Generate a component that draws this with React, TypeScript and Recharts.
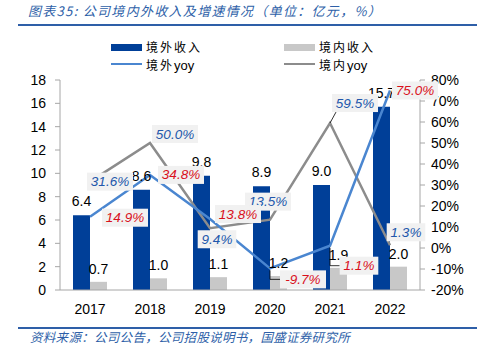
import React from 'react';
import { ComposedChart, Bar, Line, XAxis, YAxis, LabelList } from 'recharts';

const years = ['2017', '2018', '2019', '2020', '2021', '2022'];
const overseasRevenue = [6.4, 8.6, 9.8, 8.9, 9.0, 15.7];
const domesticRevenue = [0.7, 1.0, 1.1, 1.2, 1.9, 2.0];
const overseasYoy = [14.9, 34.8, 13.8, -9.7, 1.1, 75.0];
const domesticYoy = [31.6, 50.0, 9.4, 13.5, 59.5, 1.3];
const leftTicks = [0, 2, 4, 6, 8, 10, 12, 14, 16, 18];
const rightTicks = [-20, -10, 0, 10, 20, 30, 40, 50, 60, 70, 80];

// label placement relative to the data point (dx, dy) and leader-line flags
const overseasLabelShift = [[35, 1], [31, 0], [28, -5], [33, 11], [29, 20], [25, 0]];
const overseasLeader = [false, false, false, true, true, false];
const domesticLabelShift = [[20, 0], [25, -9], [7, 11], [-2, -18], [25, -20], [16, -13]];
const domesticLeader = [false, false, false, false, true, false];

const data = years.map((y, i) => ({
  year: y,
  overseas: overseasRevenue[i],
  domestic: domesticRevenue[i],
  overseasYoy: overseasYoy[i],
  domesticYoy: domesticYoy[i],
}));

const FONT = '"Liberation Sans", Arial, sans-serif';
const CJK = '"Noto Sans CJK SC", sans-serif';
const NAVY = '#003f98';
const LIGHTGREY = '#c8c8c8';
const LINEBLUE = '#4a86d0';
const LINEGREY = '#8c8c8c';
const RED = '#d9101c';
const LABELBLUE = '#2157ab';
const RULE = '#2e5fa8';

function makeLabel(shifts: number[][], leaders: boolean[], color: string) {
  return (props: any) => {
    const { x, y, index, value } = props;
    if (x == null || y == null) return null;
    const [dx, dy] = shifts[index];
    const text = `${Number(value).toFixed(1)}%`;
    const w = text.length * 7.4 + 9;
    const h = 18;
    const cx = x + dx;
    const cy = y + dy;
    let leader = null;
    if (leaders[index]) {
      if (dy > 0) {
        leader = (
          <polyline
            points={`${x},${y + 2} ${x},${cy} ${cx - w / 2},${cy}`}
            fill="none"
            stroke="#000"
            strokeWidth={0.8}
          />
        );
      } else {
        leader = (
          <line x1={x} y1={y} x2={cx - w / 2 + 4} y2={cy + h / 2} stroke="#000" strokeWidth={0.8} />
        );
      }
    }
    return (
      <g>
        {leader}
        <rect x={cx - w / 2} y={cy - h / 2} width={w} height={h} fill="#f1f1f1" />
        <text
          x={cx}
          y={cy}
          textAnchor="middle"
          dominantBaseline="central"
          fontFamily={FONT}
          fontStyle="italic"
          fontSize={13.5}
          fill={color}
        >
          {text}
        </text>
      </g>
    );
  };
}

const tickStyle = { fontSize: 14, fill: '#000', fontFamily: FONT };
const legendText = {
  position: 'absolute' as const,
  fontFamily: CJK,
  fontSize: 12,
  letterSpacing: 2,
  lineHeight: '14px',
  color: '#000',
  whiteSpace: 'nowrap' as const,
};
const latinPart = { fontFamily: FONT, fontSize: 13, letterSpacing: 0 };

export default function App() {
  return (
    <div style={{ position: 'absolute', left: 0, top: 0, width: 483, height: 357, background: '#fff', overflow: 'hidden' }}>
      <div
        style={{
          position: 'absolute',
          left: 28,
          top: 2,
          fontFamily: CJK,
          fontStyle: 'italic',
          fontSize: 13,
          lineHeight: '18px',
          letterSpacing: 1.3,
          color: RULE,
          whiteSpace: 'nowrap',
        }}
      >
        图表35: 公司境内外收入及增速情况（单位：亿元，%）
      </div>
      <div style={{ position: 'absolute', left: 18, top: 24, width: 459, height: 2, background: RULE }} />

      {/* legend */}
      <div style={{ position: 'absolute', left: 111, top: 44, width: 31, height: 7, background: NAVY }} />
      <div style={{ ...legendText, left: 146, top: 40 }}>境外收入</div>
      <div style={{ position: 'absolute', left: 284, top: 44, width: 31, height: 7, background: LIGHTGREY }} />
      <div style={{ ...legendText, left: 319, top: 40 }}>境内收入</div>
      <div style={{ position: 'absolute', left: 111, top: 63, width: 31, height: 2, background: LINEBLUE }} />
      <div style={{ ...legendText, left: 146, top: 58 }}>境外<span style={latinPart}>yoy</span></div>
      <div style={{ position: 'absolute', left: 284, top: 63, width: 31, height: 2, background: LINEGREY }} />
      <div style={{ ...legendText, left: 319, top: 58 }}>境内<span style={latinPart}>yoy</span></div>

      <div style={{ position: 'absolute', left: 0, top: 0 }}>
        <ComposedChart
          width={483}
          height={357}
          data={data}
          margin={{ top: 80, right: 0, bottom: 37, left: 0 }}
          barGap={0}
          barSize={17}
        >
          <XAxis
            dataKey="year"
            height={30}
            tick={tickStyle}
            tickLine={false}
            tickSize={6}
            tickMargin={8}
            axisLine={{ stroke: '#a6a6a6' }}
          />
          <YAxis
            yAxisId="left"
            domain={[0, 18]}
            ticks={leftTicks}
            width={60}
            tick={tickStyle}
            tickSize={5}
            tickMargin={9}
            axisLine={{ stroke: '#a6a6a6' }}
            tickLine={{ stroke: '#a6a6a6' }}
            interval={0}
          />
          <YAxis
            yAxisId="right"
            orientation="right"
            domain={[-20, 80]}
            ticks={rightTicks}
            width={63}
            tick={tickStyle}
            tickSize={5}
            tickMargin={6}
            tickFormatter={(v: number) => `${v}%`}
            axisLine={{ stroke: '#a6a6a6' }}
            tickLine={{ stroke: '#a6a6a6' }}
            interval={0}
          />
          <Bar yAxisId="left" dataKey="overseas" fill={NAVY} isAnimationActive={false}>
            <LabelList
              dataKey="overseas"
              position="top"
              offset={9}
              formatter={(v: any) => Number(v).toFixed(1)}
              style={{ fontSize: 14, fill: '#000', fontFamily: FONT }}
            />
          </Bar>
          <Bar yAxisId="left" dataKey="domestic" fill={LIGHTGREY} isAnimationActive={false}>
            <LabelList
              dataKey="domestic"
              position="top"
              offset={8}
              formatter={(v: any) => Number(v).toFixed(1)}
              style={{ fontSize: 14, fill: '#000', fontFamily: FONT }}
            />
          </Bar>
          <Line
            yAxisId="right"
            dataKey="domesticYoy"
            stroke={LINEGREY}
            strokeWidth={2.5}
            dot={false}
            isAnimationActive={false}
          >
            <LabelList dataKey="domesticYoy" content={makeLabel(domesticLabelShift, domesticLeader, LABELBLUE)} />
          </Line>
          <Line
            yAxisId="right"
            dataKey="overseasYoy"
            stroke={LINEBLUE}
            strokeWidth={2.5}
            dot={false}
            isAnimationActive={false}
          >
            <LabelList dataKey="overseasYoy" content={makeLabel(overseasLabelShift, overseasLeader, RED)} />
          </Line>
        </ComposedChart>
      </div>

      <div style={{ position: 'absolute', left: 18, top: 327, width: 459, height: 2, background: RULE }} />
      <div
        style={{
          position: 'absolute',
          left: 30,
          top: 329,
          fontFamily: CJK,
          fontStyle: 'italic',
          fontSize: 12.5,
          lineHeight: '16px',
          letterSpacing: 0.3,
          color: RULE,
          whiteSpace: 'nowrap',
        }}
      >
        资料来源：公司公告，公司招股说明书，国盛证券研究所
      </div>
    </div>
  );
}
